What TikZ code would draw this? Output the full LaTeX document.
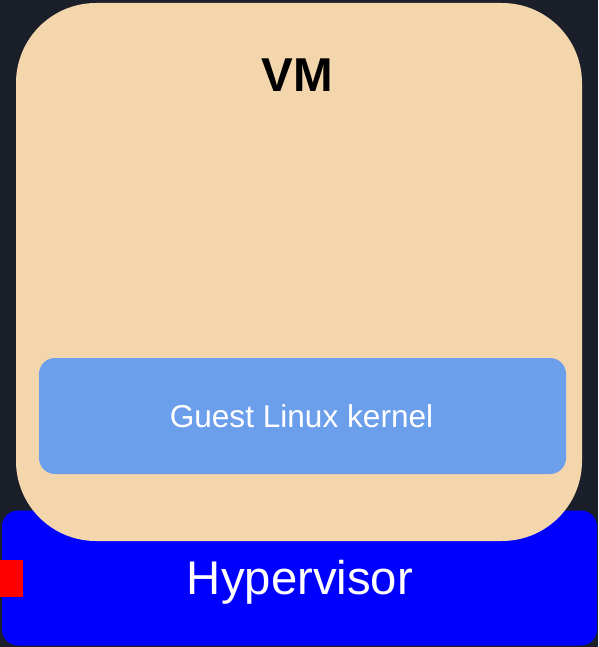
\documentclass[tikz,border=0pt]{standalone}
\usepackage{fontspec}
\setmainfont{Liberation Sans}
\definecolor{bgdark}{RGB}{27,31,42}
\definecolor{vmbeige}{RGB}{243,214,172}
\definecolor{kernelblue}{RGB}{108,159,235}
\definecolor{hypblue}{RGB}{0,0,255}
\definecolor{marker}{RGB}{255,0,0}
\tikzset{
  box/.style={draw=none, rectangle, inner sep=0pt, outer sep=0pt},
  lbl/.style={inner sep=0pt, outer sep=0pt, anchor=base},
}
\begin{document}
\begin{tikzpicture}[x=1pt,y=-1pt]
\fill[bgdark] (0,0) rectangle (598,647);
\useasboundingbox (0,0) rectangle (598,647);
% Hypervisor
\node[box, fill=hypblue, rounded corners=16pt, minimum width=595pt, minimum height=135pt] (hyp) at (299.5,578) {};
% red marker
\node[box, fill=marker, minimum width=23pt, minimum height=37pt] (mark) at (11.5,578.5) {};
% VM
\node[box, fill=vmbeige, rounded corners=80pt, minimum width=566pt, minimum height=538pt] (vm) at (299,272) {};
% Guest kernel
\node[box, fill=kernelblue, rounded corners=16pt, minimum width=527pt, minimum height=116pt] (kern) at (302.5,416) {};
% labels
\node[lbl, font=\fontsize{47.5}{50}\selectfont\bfseries, text=black] (vmlbl) at (297.5,91.5) {VM};
\node[lbl, font=\fontsize{31.6}{34}\selectfont, text=white] (kernlbl) at (301.5,427.5) {Guest Linux kernel};
\node[lbl, font=\fontsize{47.3}{50}\selectfont, text=white] (hyplbl) at (300,594.5) {Hypervisor};
\end{tikzpicture}
\end{document}
